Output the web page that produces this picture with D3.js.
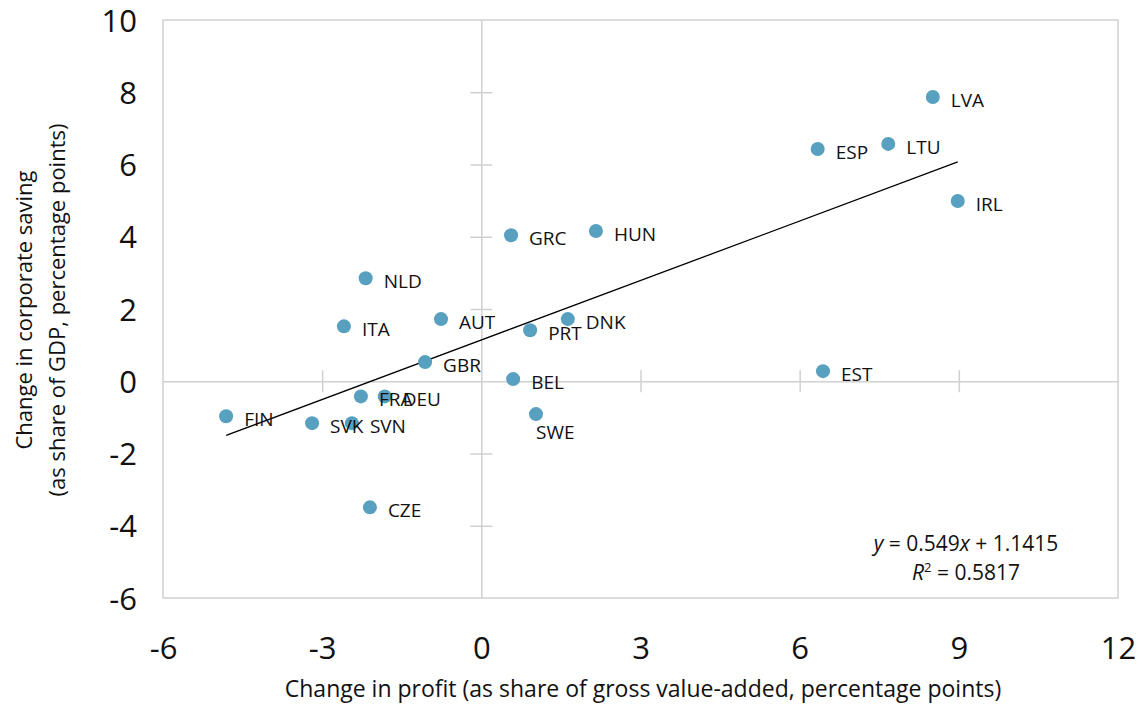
<!DOCTYPE html>
<html>
<head>
<meta charset="utf-8">
<script src="https://cdn.jsdelivr.net/npm/d3@7"></script>
<style>
  html, body { margin: 0; padding: 0; background: #fff; }
  svg { display: block; font-family: "Open Sans", "Noto Sans", sans-serif; }
</style>
</head>
<body>
<svg id="chart" width="1145" height="706"></svg>
<script>
// Country codes with change in profit (x) and change in corporate saving (y)
const countries = ["LVA","LTU","ESP","IRL","EST","HUN","GRC","NLD","ITA","AUT","DNK","PRT","GBR","BEL","SWE","FRA","DEU","FIN","SVK","SVN","CZE"];
const profitChange = [8.51, 7.67, 6.34, 8.98, 6.44, 2.16, 0.56, -2.18, -2.59, -0.76, 1.63, 0.92, -1.06, 0.60, 1.03, -2.27, -1.82, -4.81, -3.19, -2.44, -2.10];
const savingChange = [7.87, 6.57, 6.43, 4.99, 0.28, 4.16, 4.04, 2.85, 1.52, 1.72, 1.72, 1.41, 0.53, 0.06, -0.91, -0.42, -0.42, -0.97, -1.16, -1.16, -3.49];
const labelPlacement = ["right","right","right","right","right","right","right","right","right","right","right","right","right","right","below","right","right","right","right","right","right"];

const xTicks = [-6, -3, 0, 3, 6, 9, 12];
const yTicks = [-6, -4, -2, 0, 2, 4, 6, 8, 10];

// Linear trend
const slope = 0.549;
const intercept = 1.1415;
const r2Text = "0.5817";

const svg = d3.select("#chart");
const margin = { left: 163, right: 27, top: 20, bottom: 108 };
const W = 1145, H = 706;

const x = d3.scaleLinear().domain([-6, 12]).range([margin.left, W - margin.right]);
const y = d3.scaleLinear().domain([-6, 10]).range([H - margin.bottom, margin.top]);

const gridColor = "#d0d0d0";
const fmt = d => String(d); // plain hyphen for negatives

// Plot frame
svg.append("rect")
  .attr("x", x(-6)).attr("y", y(10))
  .attr("width", x(12) - x(-6)).attr("height", y(-6) - y(10))
  .attr("fill", "none").attr("stroke", gridColor).attr("stroke-width", 1.5);

// Zero axes with cross ticks
const xAxisZero = d3.axisBottom(x).tickValues(xTicks.filter(d => d !== 0 && d !== -6 && d !== 12))
  .tickSizeInner(0).tickSizeOuter(0).tickFormat("");
const gx = svg.append("g").attr("transform", `translate(0,${y(0)})`).call(xAxisZero);
gx.select(".domain").attr("stroke", gridColor).attr("stroke-width", 1.5);
gx.selectAll(".tick line").attr("y1", -11).attr("y2", 11).attr("stroke", gridColor).attr("stroke-width", 1.5);

const yAxisZero = d3.axisLeft(y).tickValues(yTicks.filter(d => d !== 0 && d !== -6 && d !== 10))
  .tickSizeInner(0).tickSizeOuter(0).tickFormat("");
const gy = svg.append("g").attr("transform", `translate(${x(0)},0)`).call(yAxisZero);
gy.select(".domain").attr("stroke", gridColor).attr("stroke-width", 1.5);
gy.selectAll(".tick line").attr("x1", -11).attr("x2", 11).attr("stroke", gridColor).attr("stroke-width", 1.5);

// Tick labels along the frame
const xLabelAxis = d3.axisBottom(x).tickValues(xTicks).tickSize(0).tickPadding(0).tickFormat(fmt);
const gxl = svg.append("g").attr("transform", `translate(0,${y(-6) + 61})`).call(xLabelAxis);
gxl.select(".domain").remove();
gxl.selectAll("text").attr("font-size", 31).attr("fill", "#111").attr("font-family", "'Open Sans', sans-serif").attr("dy", "0");

const yLabelAxis = d3.axisLeft(y).tickValues(yTicks).tickSize(0).tickPadding(0).tickFormat(fmt);
const gyl = svg.append("g").attr("transform", `translate(${x(-6) - 26},0)`).call(yLabelAxis);
gyl.select(".domain").remove();
gyl.selectAll("text").attr("font-size", 31).attr("fill", "#111").attr("font-family", "'Open Sans', sans-serif").attr("dy", "0.36em");

// Trend line across the data range
const xMin = d3.min(profitChange), xMax = d3.max(profitChange);
svg.append("line")
  .attr("x1", x(xMin)).attr("y1", y(slope * xMin + intercept))
  .attr("x2", x(xMax)).attr("y2", y(slope * xMax + intercept))
  .attr("stroke", "#000").attr("stroke-width", 1.3);

// Points
const pts = countries.map((c, i) => ({ c, x: profitChange[i], y: savingChange[i], pos: labelPlacement[i] }));
svg.append("g").selectAll("circle").data(pts).join("circle")
  .attr("cx", d => x(d.x)).attr("cy", d => y(d.y)).attr("r", 7)
  .attr("fill", "#57a0bf");

// Country labels
svg.append("g").selectAll("text").data(pts).join("text")
  .attr("x", d => d.pos === "below" ? x(d.x) : x(d.x) + 18)
  .attr("y", d => d.pos === "below" ? y(d.y) + 18 : y(d.y) + 3)
  .attr("dy", "0.35em")
  .attr("font-size", 19).attr("fill", "#111")
  .text(d => d.c);

// Regression equation
const eq = svg.append("text").attr("x", 966).attr("y", 551).attr("text-anchor", "middle")
  .attr("font-size", 21).attr("fill", "#111").attr("xml:space", "preserve");
eq.append("tspan").attr("font-style", "italic").text("y");
eq.append("tspan").text(" = 0.549");
eq.append("tspan").attr("font-style", "italic").text("x");
eq.append("tspan").text(" + 1.1415");

const r2 = svg.append("text").attr("x", 966).attr("y", 580).attr("text-anchor", "middle")
  .attr("font-size", 21).attr("fill", "#111");
r2.append("tspan").attr("font-style", "italic").text("R");
r2.append("tspan").attr("font-size", 13).attr("dy", "-8").text("2");
r2.append("tspan").attr("dy", "8").text(" = " + r2Text);

// Axis titles
svg.append("text").attr("x", 643).attr("y", 697).attr("text-anchor", "middle")
  .attr("font-size", 23).attr("fill", "#111")
  .text("Change in profit (as share of gross value-added, percentage points)");

const yt = svg.append("text").attr("transform", "translate(0,310) rotate(-90)")
  .attr("text-anchor", "middle").attr("font-size", 22).attr("fill", "#111");
yt.append("tspan").attr("x", 0).attr("y", 32).text("Change in corporate saving");
yt.append("tspan").attr("x", 0).attr("y", 65).text("(as share of GDP, percentage points)");
</script>
</body>
</html>
